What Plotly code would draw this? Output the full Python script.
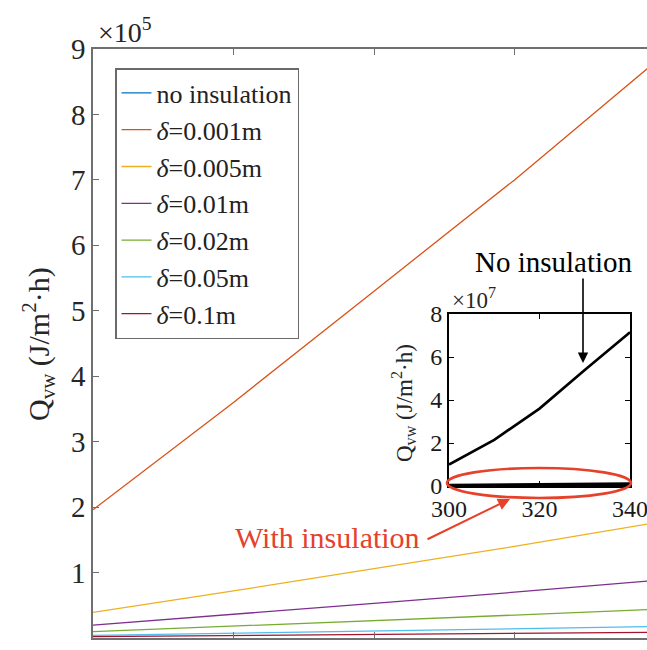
import plotly.graph_objects as go

# Ambient temperature (K) at which the wall heat flux was evaluated
temperature = [300, 310, 320, 330, 340]

# Heat flux through the wall Q_vw in J/(m^2·h)
q_no_insulation = [1.0e7, 2.15e7, 3.6e7, 5.4e7, 7.15e7]
q_d0001 = [1.96e5, 3.60e5, 5.30e5, 7.00e5, 8.80e5]
q_d0005 = [0.392e5, 0.720e5, 1.06e5, 1.40e5, 1.76e5]
q_d001 = [0.196e5, 0.360e5, 0.530e5, 0.700e5, 0.880e5]
q_d002 = [0.098e5, 0.180e5, 0.265e5, 0.350e5, 0.440e5]
q_d005 = [0.039e5, 0.072e5, 0.106e5, 0.140e5, 0.176e5]
q_d01 = [0.020e5, 0.036e5, 0.053e5, 0.070e5, 0.088e5]

series_names = ["no insulation", "<i>δ</i>=0.001m", "<i>δ</i>=0.005m", "<i>δ</i>=0.01m",
                "<i>δ</i>=0.02m", "<i>δ</i>=0.05m", "<i>δ</i>=0.1m"]
series_values = [q_no_insulation, q_d0001, q_d0005, q_d001, q_d002, q_d005, q_d01]
series_colors = ["#0072BD", "#D95319", "#EDB120", "#7E2F8E", "#77AC30", "#4DBEEE", "#A2142F"]

main_yticks = [0, 1, 2, 3, 4, 5, 6, 7, 8, 9]
inset_yticks = [0, 2, 4, 6, 8]
inset_xticks = [300, 320, 340]

SERIF = "Liberation Serif, Times New Roman, serif"
RED = "#E5412B"
AXIS_GREY = "#707070"
TEXT = "#262626"

W, H = 647, 650
ML, MR, MT, MB = 93, 0, 49, 12
plot_w = W - ML - MR
px_per_K = 562 / 40.0  # horizontal scale of the main axes

fig = go.Figure()

# Main axes: every case
for name, vals, col in zip(series_names, series_values, series_colors):
    fig.add_trace(go.Scatter(
        x=temperature, y=vals, mode="lines", name=name,
        line=dict(color=col, width=1.3),
        xaxis="x", yaxis="y",
    ))

# Inset axes: insulated cases collapse onto zero, uninsulated case in black
for vals in series_values[1:]:
    fig.add_trace(go.Scatter(
        x=temperature, y=vals, mode="lines", showlegend=False,
        line=dict(color="black", width=3.5), xaxis="x2", yaxis="y2",
    ))
fig.add_trace(go.Scatter(
    x=temperature, y=q_no_insulation, mode="lines", showlegend=False,
    line=dict(color="black", width=2.6), xaxis="x2", yaxis="y2",
))


def px_x(px):
    return (px - ML) / plot_w


def px_y(py):
    return (H - MB - py) / (H - MT - MB)


annotations = [
    # main y-axis title
    dict(text="Q<sub>vw</sub> (J/m<sup>2</sup>·h)", textangle=-90,
         x=px_x(38), y=px_y(344), xref="paper", yref="paper",
         xanchor="center", yanchor="middle",
         showarrow=False, font=dict(family=SERIF, size=30, color=TEXT)),
    # main exponent
    dict(text="×10<sup>5</sup>", x=px_x(96), y=px_y(31), xref="paper", yref="paper",
         xanchor="left", yanchor="middle", showarrow=False,
         font=dict(family=SERIF, size=28, color=TEXT)),
    # inset y-axis title
    dict(text="Q<sub>vw</sub> (J/m<sup>2</sup>·h)", textangle=-90,
         x=px_x(403), y=px_y(403), xref="paper", yref="paper",
         xanchor="center", yanchor="middle",
         showarrow=False, font=dict(family=SERIF, size=23, color=TEXT)),
    # inset exponent
    dict(text="×10<sup>7</sup>", x=px_x(450), y=px_y(298), xref="paper", yref="paper",
         xanchor="left", yanchor="middle", showarrow=False,
         font=dict(family=SERIF, size=23, color=TEXT)),
    # callout for the uninsulated curve
    dict(text="No insulation", x=px_x(554), y=px_y(262), xref="paper", yref="paper",
         xanchor="center", yanchor="middle",
         showarrow=False, font=dict(family=SERIF, size=29, color="black")),
    dict(text="", x=px_x(583), y=px_y(363), xref="paper", yref="paper",
         showarrow=True, ax=0, ay=-86, arrowhead=2, arrowsize=1.3, arrowwidth=1.6,
         arrowcolor="black"),
    # callout for the insulated cases
    dict(text="With insulation", x=px_x(327), y=px_y(537), xref="paper", yref="paper",
         xanchor="center", yanchor="middle",
         showarrow=False, font=dict(family=SERIF, size=30, color=RED)),
    dict(text="", x=px_x(510), y=px_y(499), xref="paper", yref="paper",
         showarrow=True, ax=-84, ay=41, arrowhead=2, arrowsize=1.2, arrowwidth=2,
         arrowcolor=RED),
]

shapes = [
    dict(type="circle", xref="paper", yref="paper",
         x0=px_x(447), x1=px_x(631), y0=px_y(498), y1=px_y(468),
         line=dict(color=RED, width=2.6)),
]

fig.update_layout(
    width=W, height=H,
    margin=dict(l=ML, r=MR, t=MT, b=MB, autoexpand=False),
    paper_bgcolor="white", plot_bgcolor="white",
    showlegend=True,
    legend=dict(
        x=px_x(115), y=px_y(68), xanchor="left", yanchor="top",
        xref="paper", yref="paper",
        bgcolor="white", bordercolor="#6a6a6a", borderwidth=1.5,
        font=dict(family=SERIF, size=26, color="#222222"),
        tracegroupgap=0, itemwidth=30,
    ),
    xaxis=dict(
        domain=[0, 1], range=[300, 300 + plot_w / px_per_K],
        tickvals=[310, 320, 330], showticklabels=False,
        ticks="inside", ticklen=6, tickcolor=AXIS_GREY,
        showline=True, linecolor=AXIS_GREY, linewidth=1.6, mirror="ticks",
        showgrid=False, zeroline=False, anchor="y", automargin=False,
    ),
    yaxis=dict(
        domain=[0, 1], range=[0, 9e5],
        tickvals=[v * 1e5 for v in main_yticks], ticktext=[str(v) for v in main_yticks],
        ticks="inside", ticklen=6, tickcolor=AXIS_GREY,
        tickfont=dict(family=SERIF, size=29, color=TEXT),
        showline=True, linecolor=AXIS_GREY, linewidth=1.6,
        showgrid=False, zeroline=False, anchor="x", automargin=False,
    ),
    xaxis2=dict(
        domain=[px_x(449), px_x(630)], range=[300, 340],
        tickvals=inset_xticks, ticktext=[str(v) for v in inset_xticks],
        ticks="inside", ticklen=5, tickcolor="black",
        tickfont=dict(family=SERIF, size=24, color="#1a1a1a"),
        ticklabeloverflow="allow",
        showline=True, linecolor="black", linewidth=2, mirror="ticks",
        showgrid=False, zeroline=False, anchor="y2", automargin=False,
    ),
    yaxis2=dict(
        domain=[px_y(486), px_y(314)], range=[0, 8e7],
        tickvals=[v * 1e7 for v in inset_yticks], ticktext=[str(v) for v in inset_yticks],
        ticks="inside", ticklen=5, tickcolor="black",
        tickfont=dict(family=SERIF, size=24, color="#1a1a1a"),
        showline=True, linecolor="black", linewidth=2, mirror="ticks",
        showgrid=False, zeroline=False, anchor="x2", automargin=False,
    ),
    annotations=annotations,
    shapes=shapes,
)

fig.write_html("out.html")
